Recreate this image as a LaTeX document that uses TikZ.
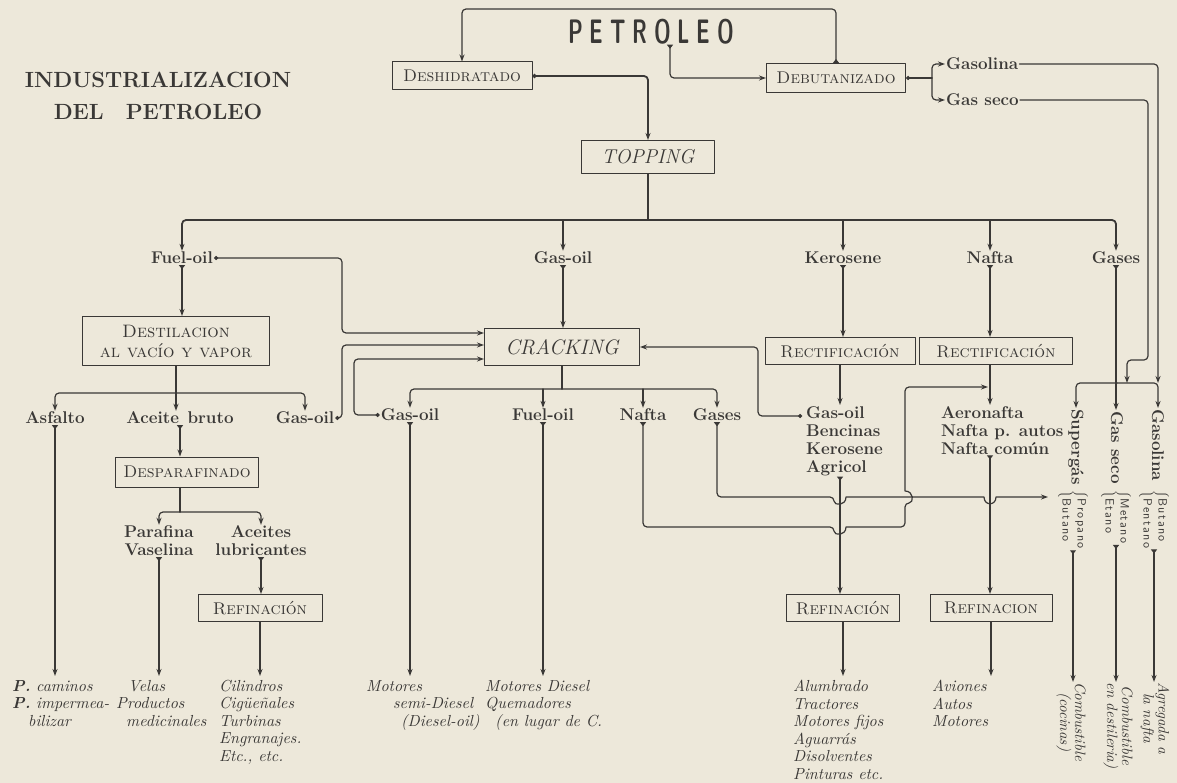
\documentclass[tikz,border=0pt]{standalone}
\usepackage{fontspec}
\usetikzlibrary{arrows.meta}
\newfontfamily\petfont[FakeStretch=0.62,LetterSpace=20]{lmsans10-bold.otf}
\newfontfamily\itlfont[BoldFont=lmroman10-bolditalic.otf]{lmroman10-italic.otf}
\newfontfamily\compfont[LetterSpace=12]{lmsans10-regular.otf}
\definecolor{paper}{RGB}{237,232,218}
\definecolor{ink}{RGB}{58,56,54}
\tikzset{
  conn/.style={draw=ink, line width=1.2pt},
  main/.style={line width=1.8pt},
  arr/.style={conn, -{Stealth[length=7pt,width=5pt]}},
  tri/.style={conn, {Triangle[reversed,length=4pt,width=6pt]}-{Stealth[length=7pt,width=5pt]}},
  dot/.style={conn, {Circle[length=4pt]}-{Stealth[length=7pt,width=5pt]}},
  proc/.style={draw=ink, line width=1pt, text=ink, font=\scshape\fontsize{17}{19}\selectfont, inner sep=2pt, align=center},
  prod/.style={text=ink, font=\bfseries\fontsize{17}{18}\selectfont, inner sep=1pt, align=center},
  uses/.style={text=ink, font=\itlfont\fontsize{16}{17.5}\selectfont, inner sep=0pt, align=left, anchor=north west},
  vert/.style={rotate=-90, anchor=west},
  comp/.style={vert, text=ink, font=\compfont\fontsize{12}{15}\selectfont, inner sep=0pt},
  vuse/.style={vert, text=ink, font=\itlfont\fontsize{15}{15}\selectfont, inner sep=0pt, align=center},
}
\begin{document}
\begin{tikzpicture}[x=1pt, y=-1pt, line join=round, line cap=round]
\fill[paper] (0,0) rectangle (1177,783);
\useasboundingbox (0,0) rectangle (1177,783);
\coordinate (loop) at (0,9);
\coordinate (p1) at (670,0);
\coordinate (bus) at (0,220);
\coordinate (bus2) at (0,393);
\coordinate (bus3) at (0,389);
\coordinate (bus4) at (0,512);
\coordinate (rbus) at (0,383);
\coordinate (bot) at (0,676);
\coordinate (c1) at (342,333);
\coordinate (c2) at (342,345);
\coordinate (c3) at (354,359);
\coordinate (c4) at (758,347);
\coordinate (kgo) at (802,416);
\coordinate (djn) at (932,78);
\coordinate (gs1) at (1148,360);
\coordinate (gs2) at (1127,383);
\coordinate (nj) at (988,387);
\coordinate (gend) at (1048,497);
% titles
\node[text=ink, font=\bfseries\fontsize{22}{32}\selectfont, align=center] (title) at (158,96) {INDUSTRIALIZACION\\DEL\quad PETROLEO};
\node[text=ink, font=\petfont\fontsize{34}{34}\selectfont, inner sep=0pt] (petroleo) at (651,32) {PETROLEO};
% process boxes
\node[proc, minimum width=140pt, minimum height=28pt] (deshid) at (462,76) {Deshidratado};
\node[proc, minimum width=139pt, minimum height=29pt] (debut) at (836,78) {Debutanizado};
\node[proc, font=\itshape\fontsize{20}{22}\selectfont, minimum width=133pt, minimum height=33pt] (topping) at (648,157) {TOPPING};
\node[proc, font=\scshape\fontsize{18}{20}\selectfont, minimum width=187pt, minimum height=49pt] (destil) at (176,341) {Destilacion\\al vacío y vapor};
\node[proc, font=\itshape\fontsize{21}{23}\selectfont, minimum width=155pt, minimum height=37pt] (cracking) at (562,347) {CRACKING};
\node[proc, minimum width=150pt, minimum height=27pt] (rect1) at (840,351) {Rectificación};
\node[proc, minimum width=153pt, minimum height=27pt] (rect2) at (996,351) {Rectificación};
\node[proc, minimum width=143pt, minimum height=30pt] (desparaf) at (187,472) {Desparafinado};
\node[proc, minimum width=124pt, minimum height=27pt] (refin1) at (260,608) {Refinación};
\node[proc, minimum width=113pt, minimum height=27pt] (refin2) at (843,608) {Refinación};
\node[proc, minimum width=122pt, minimum height=27pt] (refin3) at (991,608) {Refinacion};
% products
\node[prod, anchor=west] (gasolina) at (945,64) {Gasolina};
\node[prod, anchor=west] (gasseco) at (945,100) {Gas seco};
\node[prod] (fuel) at (182,258) {Fuel-oil};
\node[prod] (gasoil1) at (563,258) {Gas-oil};
\node[prod] (kero) at (843,258) {Kerosene};
\node[prod] (nafta1) at (990,258) {Nafta};
\node[prod] (gases1) at (1116,258) {Gases};
\node[prod] (asfalto) at (55,418) {Asfalto};
\node[prod] (aceite) at (180,418) {Aceite\enspace bruto};
\node[prod] (gasoil2) at (305,418) {Gas-oil};
\node[prod] (gasoil3) at (410,415) {Gas-oil};
\node[prod] (fuel3) at (543,415) {Fuel-oil};
\node[prod] (nafta3) at (643,415) {Nafta};
\node[prod] (gases3) at (717,415) {Gases};
\node[prod] (parafina) at (159,541) {Parafina\\Vaselina};
\node[prod] (aceites) at (261,541) {Aceites\\lubricantes};
\node[prod, anchor=north west, align=left] (kerolist) at (805,405) {Gas-oil\\Bencinas\\Kerosene\\Agricol};
\node[prod, anchor=north west, align=left] (naftalist) at (940,405) {Aeronafta\\Nafta p. autos\\Nafta común};
\node[prod, vert] (supergas) at (1076,408) {Supergás};
\node[prod, vert] (gasseco2) at (1117,410) {Gas seco};
\node[prod, vert] (gasolina2) at (1158,408) {Gasolina};
\node[comp] (supcomp) at (1073,490) {$\left\{\mbox{\begin{tabular}{@{}l@{}}Propano\\Butano\end{tabular}}\right.$};
\node[comp] (gscomp) at (1116,490) {$\left\{\mbox{\begin{tabular}{@{}l@{}}Metano\\Etano\end{tabular}}\right.$};
\node[comp] (glcomp) at (1154,490) {$\left\{\mbox{\begin{tabular}{@{}l@{}}Butano\\Pentano\end{tabular}}\right.$};
% uses
\node[uses] (use1) at (12,680) {\textbf{P.} caminos\\\textbf{P.} impermea-\\\hspace*{16pt}bilizar};
\node[uses] (use2) at (116,680) {\hspace*{12pt}Velas\\Productos\\\hspace*{10pt}medicinales};
\node[uses] (use3) at (219,680) {Cilindros\\Cigüeñales\\Turbinas\\Engranajes.\\Etc., etc.};
\node[uses] (use4) at (366,680) {Motores\\\hspace*{27pt}semi-Diesel\\\hspace*{35pt}(Diesel-oil)};
\node[uses] (use5) at (485,680) {Motores Diesel\\Quemadores\\\hspace*{10pt}(en lugar de C.};
\node[uses] (use6) at (793,680) {Alumbrado\\Tractores\\Motores fijos\\Aguarrás\\Disolventes\\Pinturas etc.};
\node[uses] (use7) at (932,680) {Aviones\\Autos\\Motores};
\node[vuse] (supuse) at (1071,682) {Combustible\\(cocinas)};
\node[vuse] (gsuse) at (1118,682) {Combustible\\en destileria)};
\node[vuse] (gluse) at (1155,682) {Agregada a\\la nafta};
% top
\draw[tri, rounded corners=4pt] (debut.north) |- (deshid.north |- loop) -- (deshid.north);
\draw[tri, rounded corners=4pt] (petroleo.south -| p1) |- (debut.west);
\draw[dot, main, rounded corners=4pt] (deshid.east) -| (topping.north);
\draw[conn, {Circle[length=4pt]}-] (debut.east) -- (djn);
\draw[arr, rounded corners=4pt] (djn) |- (gasolina.west);
\draw[arr, rounded corners=4pt] (djn) |- (gasseco.west);
\draw[conn, main] (topping.south) -- (topping.south |- bus);
\draw[arr, main, rounded corners=4pt] (topping.south |- bus) -| (fuel.north);
\draw[arr, main, rounded corners=4pt] (topping.south |- bus) -| (gases1.north);
\foreach \n in {gasoil1,kero,nafta1}
  \draw[arr, main] (\n.north |- bus) -- (\n.north);
% left branch
\draw[tri] (fuel.south) -- (fuel.south |- destil.north);
\draw[dot, rounded corners=4pt] (fuel.east) -| (c1) -- (c1 -| cracking.west);
\draw[conn] (destil.south) -- (destil.south |- bus2);
\draw[arr, rounded corners=4pt] (destil.south |- bus2) -| (asfalto.north);
\draw[arr, rounded corners=4pt] (destil.south |- bus2) -| (gasoil2.north);
\draw[arr] (destil.south |- bus2) -- (destil.south |- aceite.north);
\draw[dot, rounded corners=4pt] (gasoil2.east) -| (c2) -- (c2 -| cracking.west);
\draw[tri] (asfalto.south) -- (asfalto.south |- bot);
\draw[tri] (aceite.south) -- (aceite.south |- desparaf.north);
\draw[conn] (aceite.south |- desparaf.south) -- (aceite.south |- bus4);
\draw[arr, rounded corners=4pt] (aceite.south |- bus4) -| (parafina.north);
\draw[arr, rounded corners=4pt] (aceite.south |- bus4) -| (aceites.north);
\draw[tri] (parafina.south) -- (parafina.south |- bot);
\draw[tri] (aceites.south) -- (aceites.south |- refin1.north);
\draw[arr] (refin1.south) -- (refin1.south |- bot);
% cracking
\draw[tri, main] (gasoil1.south) -- (gasoil1.south |- cracking.north);
\draw[conn] (cracking.south) -- (cracking.south |- bus3);
\draw[arr, rounded corners=4pt] (cracking.south |- bus3) -| (gasoil3.north);
\draw[arr, rounded corners=4pt] (cracking.south |- bus3) -| (gases3.north);
\draw[arr] (fuel3.north |- bus3) -- (fuel3.north);
\draw[arr] (nafta3.north |- bus3) -- (nafta3.north);
\draw[dot, rounded corners=4pt] (gasoil3.west) -| (c3) -- (c3 -| cracking.west);
\draw[tri] (gasoil3.south) -- (gasoil3.south |- bot);
\draw[tri] (fuel3.south) -- (fuel3.south |- bot);
\draw[dot, rounded corners=4pt] (kgo) -| (c4) -- (c4 -| cracking.east);
\draw[tri] (nafta3.south) [rounded corners=4pt] |- (834,527) [sharp corners] .. controls (834,536) and (846,536) .. (846,527) [rounded corners=4pt] -- (905,527) -- (905,503) [sharp corners] .. controls (914,503) and (914,491) .. (905,491) [rounded corners=4pt] -- (905,387) -- (nj);
\draw[tri] (gases3.south) [rounded corners=4pt] |- (834,497) [sharp corners] .. controls (834,506) and (846,506) .. (846,497) -- (984,497) .. controls (984,506) and (996,506) .. (996,497) -- (gend);
% kerosene and nafta
\draw[tri, main] (kero.south) -- (kero.south |- rect1.north);
\draw[tri, main] (nafta1.south) -- (nafta1.south |- rect2.north);
\draw[arr] (rect1.south) -- (rect1.south |- kerolist.north);
\draw[tri] (rect1.south |- kerolist.south) -- (rect1.south |- refin2.north);
\draw[arr] (refin2.south) -- (refin2.south |- bot);
\draw[arr] (nafta1.south |- rect2.south) -- (nafta1.south |- naftalist.north);
\draw[tri] (nafta1.south |- naftalist.south) -- (nafta1.south |- refin3.north);
\draw[arr] (refin3.south) -- (refin3.south |- bot);
% gases
\draw[arr, rounded corners=4pt] (gasolina.east) -| (gasolina2.west |- rbus);
\draw[arr, rounded corners=4pt] (gasseco.east) -| (gs1) -| (gs2);
\draw[tri, main] (gases1.south) -- (gases1.south |- gasseco2.west);
\draw[arr, rounded corners=4pt] (gasseco2.west |- rbus) -| (supergas.west);
\draw[arr, rounded corners=4pt] (gasseco2.west |- rbus) -| (gasolina2.west);
\draw[tri] (supcomp.east) -- (supcomp.east |- supuse.west);
\draw[tri] (gscomp.east) -- (gscomp.east |- gsuse.west);
\draw[tri] (glcomp.east) -- (glcomp.east |- gluse.west);
\end{tikzpicture}
\end{document}
